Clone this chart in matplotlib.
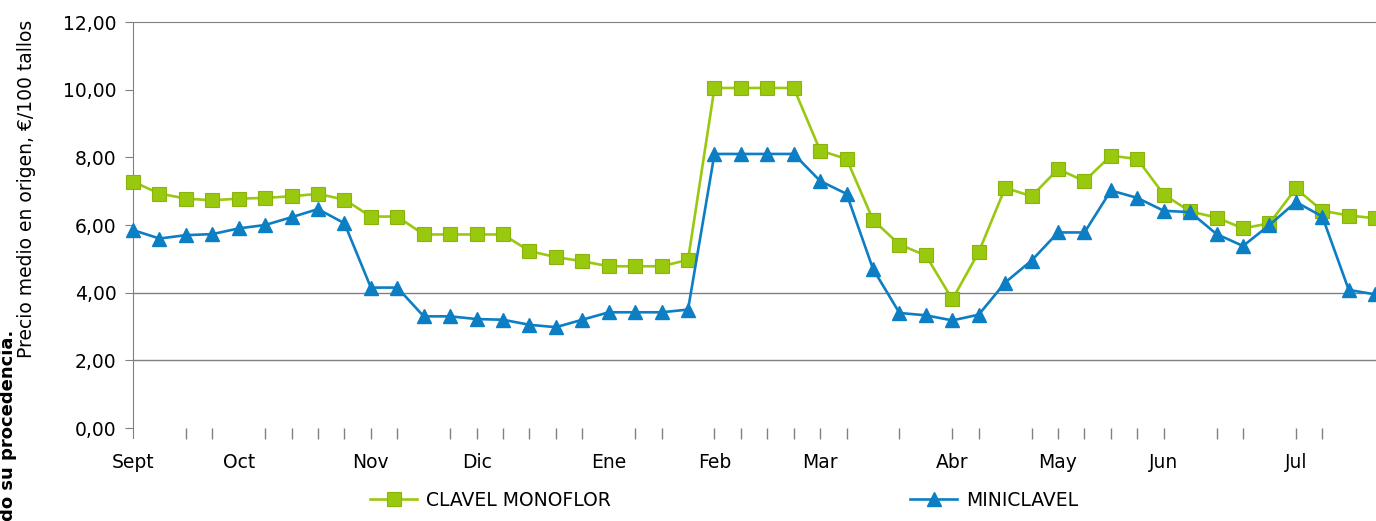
import matplotlib
matplotlib.use("Agg")
import matplotlib.pyplot as plt
import numpy as np

# weekly prices, Sept -> Jul (48 weeks)
monoflor = [7.28, 6.93, 6.78, 6.73, 6.78, 6.80, 6.85, 6.92, 6.75, 6.25,
            6.25, 5.72, 5.72, 5.72, 5.72, 5.23, 5.05, 4.93, 4.78, 4.78,
            4.78, 4.97, 10.05, 10.05, 10.05, 10.05, 8.20, 7.95, 6.15, 5.42,
            5.10, 3.80, 5.20, 7.10, 6.85, 7.65, 7.30, 8.05, 7.95, 6.90,
            6.40, 6.22, 5.90, 6.05, 7.08, 6.42, 6.28, 6.20]
miniclavel = [5.85, 5.60, 5.70, 5.73, 5.90, 6.00, 6.23, 6.47, 6.05, 4.15,
              4.15, 3.30, 3.30, 3.22, 3.20, 3.05, 2.98, 3.20, 3.42, 3.42,
              3.42, 3.50, 8.10, 8.10, 8.10, 8.10, 7.30, 6.92, 4.70, 3.40,
              3.33, 3.18, 3.35, 4.30, 4.95, 5.78, 5.78, 7.02, 6.80, 6.42,
              6.38, 5.73, 5.38, 6.00, 6.68, 6.25, 4.08, 3.95]

month_pos = [0, 4, 9, 13, 18, 22, 26, 31, 35, 39, 44]
month_labels = ["Sept", "Oct", "Nov", "Dic", "Ene", "Feb", "Mar", "Abr",
                "May", "Jun", "Jul"]
tick_pos = [2, 3, 5, 6, 7, 8, 9, 10, 12, 13, 14, 15, 16, 17, 19, 20, 22, 23,
            24, 25, 26, 27, 29, 31, 32, 34, 35, 36, 37, 38, 39, 41, 42, 44, 45]

green = "#99C90F"
blue = "#0C7EC4"
grey = "#808080"

x = np.arange(len(monoflor))

fig = plt.figure(figsize=(13.76, 5.21), dpi=100)
ax = fig.add_axes([133 / 1376, 1 - 428 / 521, 1 - 133 / 1376, (428 - 22) / 521])

ax.plot(x, monoflor, color=green, lw=1.9, marker="s", ms=10,
        mfc=green, mec="#8AB30C", mew=0.8, clip_on=False, zorder=3,
        label="CLAVEL MONOFLOR")
ax.plot(x, miniclavel, color=blue, lw=1.9, marker="^", ms=10,
        mfc=blue, mec=blue, clip_on=False, zorder=4, label="MINICLAVEL")

ax.set_xlim(0, 47.03)
ax.set_ylim(0, 12)
yt = np.arange(0, 13, 2)
ax.set_yticks(yt)
ax.set_yticklabels([("%.2f" % v).replace(".", ",") for v in yt], fontsize=13.5)
for v in [2, 4]:
    ax.axhline(v, color=grey, lw=1, zorder=1)

for s in ["right", "bottom"]:
    ax.spines[s].set_visible(False)
ax.spines["top"].set_color(grey)
ax.spines["left"].set_color(grey)
ax.spines["left"].set_bounds(-0.3, 12)
ax.tick_params(axis="y", length=6, color=grey, pad=6)

# month labels and weekly tick marks
ax.xaxis.remove_overlapping_locs = False
ax.set_xticks(month_pos)
ax.set_xticklabels(month_labels, fontsize=13.5)
ax.tick_params(axis="x", length=0, pad=18)
ax.set_xticks(tick_pos, minor=True)
ax.tick_params(axis="x", which="minor", length=8, color=grey, width=1)

ax.set_ylabel("Precio medio en origen, €/100 tallos", fontsize=13.5, labelpad=14)
ax.yaxis.set_label_coords(-0.078, 0.59)

fig.text(8 / 1376, 1 - 330 / 521, "indicando su procedencia.", rotation=90,
         ha="center", va="top", fontsize=13, fontweight="bold")

fig.legend(loc="center", bbox_to_anchor=(724 / 1376, 1 - 500 / 521), ncol=2,
           frameon=False, fontsize=13.5, handlelength=2.5, handletextpad=0.45,
           columnspacing=16.0)

fig.savefig("out.png", dpi=100)
